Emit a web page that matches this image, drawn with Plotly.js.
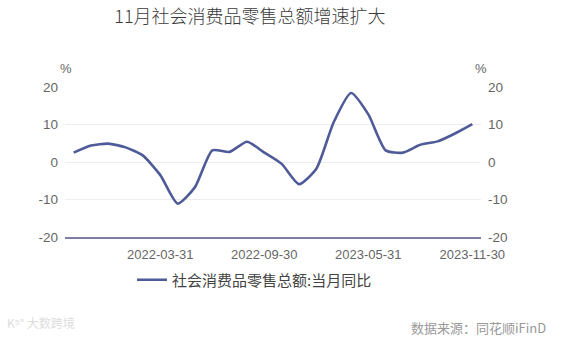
<!DOCTYPE html>
<html>
<head>
<meta charset="utf-8">
<script src="https://cdn.plot.ly/plotly-3.0.1.min.js"></script>
<style>html,body{margin:0;padding:0;background:#fff;}#chart{width:571px;height:340px;}</style>
</head>
<body>
<div id="chart"></div>
<script>
// Data
const months = ["2021-08-31","2021-09-30","2021-10-31","2021-11-30","2021-12-31",
  "2022-03-31","2022-04-30","2022-05-31","2022-06-30","2022-07-31","2022-08-31","2022-09-30",
  "2022-10-31","2022-11-30","2022-12-31","2023-03-31","2023-04-30","2023-05-31","2023-06-30",
  "2023-07-31","2023-08-31","2023-09-30","2023-10-31","2023-11-30"];
const retailYoY = [2.5, 4.4, 4.9, 3.9, 1.7, -3.5, -11.1, -6.7, 3.1, 2.7, 5.4, 2.5,
  -0.5, -5.9, -1.8, 10.6, 18.4, 12.7, 3.1, 2.5, 4.6, 5.5, 7.6, 10.1];
const tickDates = ["2022-03-31","2022-09-30","2023-05-31","2023-11-30"];
const yTicks = [-20, -10, 0, 10, 20];
const yTickText = ["-20", "-10", "0", "10", "20"];
const seriesName = "社会消费品零售总额:当月同比";

const fontFam = "Liberation Sans, Arial, Noto Sans CJK SC, sans-serif";
const cjk = "Noto Sans CJK SC, sans-serif";
const lineColor = "#4f5b98";

const traces = [
  {x: months, y: retailYoY, type: "scatter", mode: "lines", name: seriesName,
   line: {color: lineColor, width: 2.6, shape: "spline", smoothing: 0.6},
   hoverinfo: "skip"},
  {x: months, y: retailYoY, type: "scatter", mode: "lines", yaxis: "y2",
   showlegend: false, opacity: 0, line: {width: 0}, hoverinfo: "skip"}
];

const yax = {
  range: [-20, 20], tickvals: yTicks, ticktext: yTickText, showgrid: true, gridcolor: "#eeeeee", gridwidth: 1,
  zeroline: false, showline: false, ticks: "", ticklabelstandoff: 6,
  tickfont: {family: fontFam, size: 13.5, color: "#666"}, fixedrange: true
};

const layout = {
  width: 571, height: 340,
  margin: {l: 65, r: 90, t: 87, b: 103, pad: 0},
  paper_bgcolor: "#fff", plot_bgcolor: "#fff",
  title: {text: "11月社会消费品零售总额增速扩大", x: 250/571, xref: "container", xanchor: "center",
          y: 1 - 17/340, yref: "container", yanchor: "middle",
          font: {family: cjk, size: 18, color: "#3a3a3a", weight: 300}},
  xaxis: {type: "category", range: [-0.5, 23.5], tickvals: tickDates, ticktext: tickDates,
          showgrid: false, zeroline: false, showline: true, linecolor: "#7b7fa6", linewidth: 2,
          ticks: "", ticklabelstandoff: 4,
          tickfont: {family: fontFam, size: 13, color: "#666"}, fixedrange: true},
  yaxis: Object.assign({}, yax, {side: "left"}),
  yaxis2: Object.assign({}, yax, {side: "right", overlaying: "y", showgrid: false}),
  showlegend: true,
  legend: {orientation: "h", x: 132/571, xref: "container", xanchor: "left",
           y: 1 - 280/340, yref: "container", yanchor: "middle",
           font: {family: cjk, size: 15, color: "#444"}, bgcolor: "rgba(0,0,0,0)"},
  annotations: [
    {text: "%", xref: "paper", yref: "paper", x: (66-65)/416, y: (237-69)/150,
     showarrow: false, xanchor: "center", yanchor: "middle",
     font: {family: fontFam, size: 13, color: "#666"}},
    {text: "%", xref: "paper", yref: "paper", x: (481-65)/416, y: (237-69)/150,
     showarrow: false, xanchor: "center", yanchor: "middle",
     font: {family: fontFam, size: 13, color: "#666"}},
    {text: "数据来源：同花顺iFinD", xref: "paper", yref: "paper", x: (548-65)/416, y: (237-327)/150,
     showarrow: false, xanchor: "right", yanchor: "middle",
     font: {family: cjk, size: 13, color: "#999"}},
    {text: "K⁵° 大数跨境", xref: "paper", yref: "paper", x: (5-65)/416, y: (237-322)/150,
     showarrow: false, xanchor: "left", yanchor: "middle",
     font: {family: cjk, size: 12, color: "#dddddd"}}
  ]
};

Plotly.newPlot("chart", traces, layout, {displayModeBar: false, staticPlot: true});
</script>
</body>
</html>
